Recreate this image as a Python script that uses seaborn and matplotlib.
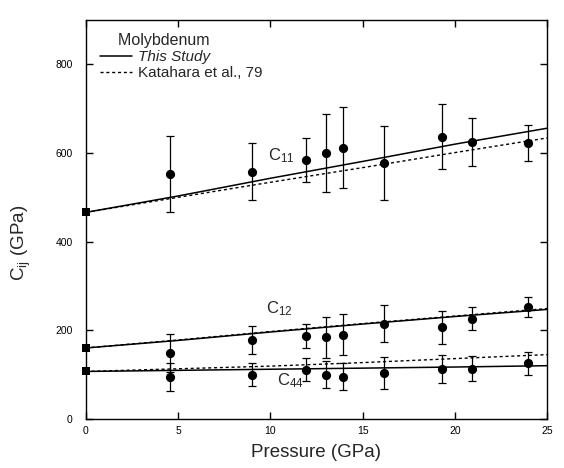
import matplotlib
matplotlib.use("Agg")
import matplotlib.pyplot as plt
from matplotlib.lines import Line2D
import numpy as np
import pandas as pd
import seaborn as sns

# Measured elastic constants of molybdenum under pressure (GPa)
pressure = [4.55, 9.0, 11.95, 13.0, 13.95, 16.15, 19.3, 20.95, 23.95]
c11 = [553, 558, 584, 599, 612, 578, 637, 625, 623]
c11_err = [85, 65, 50, 88, 92, 84, 74, 55, 40]
c12 = [149, 178, 187, 184, 190, 215, 207, 226, 252]
c12_err = [43, 32, 26, 46, 46, 41, 37, 26, 22]
c44 = [94, 100, 111, 100, 95, 104, 113, 113, 125]
c44_err = [32, 26, 26, 30, 30, 36, 32, 28, 26]

# Ambient-pressure values
p_zero = [0]
c11_zero = [466]
c12_zero = [160]
c44_zero = [107]

# Fitted pressure dependence: this study (solid) and Katahara et al. 1979 (dashed)
fit_pressure = [0, 5, 10, 15, 20, 25]
c11_fit = [466, 503, 543, 581, 620, 656]
c12_fit = [160, 177, 196, 214, 231, 247]
c44_fit = [107, 109.5, 112, 114.5, 117, 120]
c11_kat = [466, 500, 534, 567, 601, 634]
c12_kat = [160, 178, 197, 215, 232, 249]
c44_kat = [107, 113, 119, 127, 136, 145]

x_ticks = [0, 5, 10, 15, 20, 25]
y_ticks = [0, 200, 400, 600, 800]

sns.set_theme(style="ticks")
plt.rcParams["font.family"] = ["Liberation Sans", "DejaVu Sans"]
plt.rcParams["mathtext.default"] = "regular"

fig = plt.figure(figsize=(5.64, 4.68), dpi=100)
ax = fig.add_axes([0.152, 0.105, 0.818, 0.852])

fits = pd.DataFrame({
    "P": fit_pressure * 6,
    "C": c11_fit + c12_fit + c44_fit + c11_kat + c12_kat + c44_kat,
    "curve": (["c11"] * 6 + ["c12"] * 6 + ["c44"] * 6
              + ["k11"] * 6 + ["k12"] * 6 + ["k44"] * 6),
})
dash = (0, (2.2, 2.0))
for name in ["k11", "k12", "k44"]:
    sns.lineplot(data=fits[fits.curve == name], x="P", y="C", color="black",
                 lw=1.0, ax=ax, linestyle=dash, legend=False)
for name in ["c11", "c12", "c44"]:
    sns.lineplot(data=fits[fits.curve == name], x="P", y="C", color="black",
                 lw=1.1, ax=ax, legend=False)

for vals, errs in [(c11, c11_err), (c12, c12_err), (c44, c44_err)]:
    ax.errorbar(pressure, vals, yerr=errs, fmt="none", ecolor="black",
                elinewidth=0.9, capsize=3, capthick=0.9)
    sns.scatterplot(x=pressure, y=vals, marker="o", s=44, color="black",
                    edgecolor="black", linewidth=0, ax=ax, zorder=4)

for zero in [c11_zero, c12_zero, c44_zero]:
    sns.scatterplot(x=p_zero, y=zero, marker="s", s=40, color="black",
                    edgecolor="black", linewidth=0, ax=ax, zorder=4,
                    clip_on=False)

ax.text(9.85, 593, "C$_{11}$", fontsize=12, va="center")
ax.text(9.77, 248, "C$_{12}$", fontsize=12, va="center")
ax.text(10.36, 86, "C$_{44}$", fontsize=12, va="center")

ax.set_xlim(0, 25)
ax.set_ylim(0, 900)
ax.set_xticks(x_ticks)
ax.set_yticks(y_ticks)
ax.set_xticklabels([str(t) for t in x_ticks])
ax.set_yticklabels([str(t) for t in y_ticks])
ax.tick_params(direction="in", length=5, width=1, top=True, right=True,
               labelsize=7.5, colors="black")
ax.tick_params(axis="y", pad=9.5)
ax.tick_params(axis="x", pad=5)
for side in ax.spines.values():
    side.set_color("black")
    side.set_linewidth(1.0)

ax.set_xlabel("Pressure (GPa)", fontsize=13.5, labelpad=6)
ax.set_ylabel("C$_{ij}$ (GPa)", fontsize=13.5)
ax.yaxis.set_label_coords(-0.115, 0.44)

handles = [Line2D([], [], color="black", lw=1.1),
           Line2D([], [], color="black", lw=1.0, linestyle=dash)]
leg = ax.legend(handles, ["This Study", "Katahara et al., 79"],
                title="    Molybdenum", loc="upper left",
                bbox_to_anchor=(0.03, 0.968), frameon=False, fontsize=11,
                title_fontsize=11.5, handlelength=2.1, handletextpad=0.4,
                labelspacing=0.15, borderpad=0, borderaxespad=0,
                alignment="left")
leg.get_texts()[0].set_fontstyle("italic")

fig.savefig("out.png", dpi=100, facecolor="white")
